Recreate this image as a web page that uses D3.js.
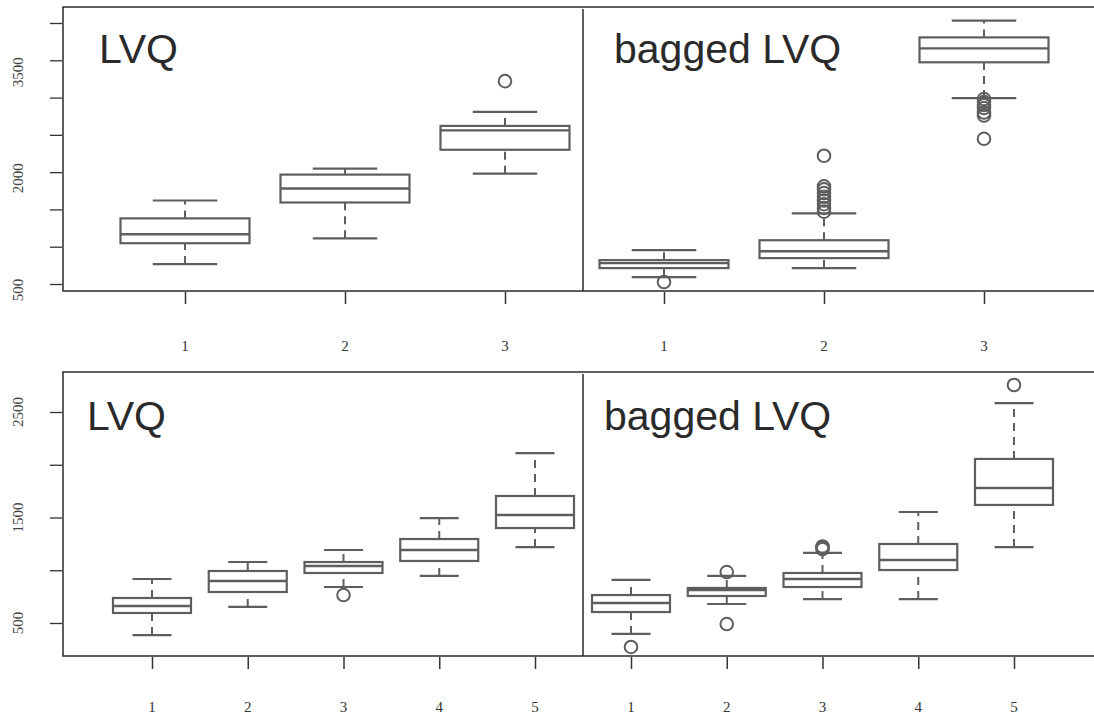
<!DOCTYPE html>
<html><head><meta charset="utf-8">
<script src="https://cdn.jsdelivr.net/npm/d3@7"></script>
<style>body{margin:0;background:#fff}svg{display:block}</style>
</head><body>
<svg id="c" width="1094" height="716"></svg>
<script>
// ---- data ----
const groups3 = ["1","2","3"];
const groups5 = ["1","2","3","4","5"];
const topTicks = [500,1000,1500,2000,2500,3000,3500,4000];
const topTickLabels = [500,2000,3500];
const botTicks = [500,1000,1500,2000,2500];
const botTickLabels = [500,1500,2500];
const panelTitles = ["LVQ","bagged LVQ"];
// each row: [lowerWhisker, q1, median, q3, upperWhisker]
const topLVQ = [[767,1047,1167,1380,1620],[1113,1593,1780,1967,2047],[1980,2300,2560,2620,2807]];
const topLVQOut = [[],[],[3220]];
const topBag = [[593,713,780,820,953],[713,847,940,1087,1447],[2993,3473,3660,3807,4033]];
const topBagOut = [[527],[2220,1810,1770,1720,1670,1620,1570,1520,1470],[2980,2940,2900,2860,2800,2760,2447]];
const botLVQ = [[386,595,661,737,917],[652,794,898,993,1078],[841,974,1040,1078,1192],[946,1088,1192,1296,1495],[1220,1400,1524,1704,2111]];
const botLVQOut = [[],[],[765],[],[]];
const botBag = [[396,604,690,765,908],[680,756,813,832,946],[727,841,917,974,1164],[727,1002,1097,1249,1552],[1220,1619,1780,2055,2585]];
const botBagOut = [[273],[983,490],[1200,1215,1225],[],[2756]];

const svg = d3.select("#c");
const lineCol = "#5e5e5e", frameCol = "#2a2a2a";

function drawRow(cfg){
  const y = d3.scaleLinear().domain(cfg.ydom).range(cfg.yrange);
  const g = svg.append("g");
  // frame
  g.append("path").attr("d",`M1094,${cfg.top}H${cfg.left}V${cfg.bottom}H1094`)
    .attr("fill","none").attr("stroke",frameCol).attr("stroke-width",1.5);
  g.append("line").attr("x1",cfg.divider).attr("x2",cfg.divider).attr("y1",cfg.top+2).attr("y2",cfg.bottom)
    .attr("stroke",frameCol).attr("stroke-width",1.5);
  // y axis
  const ya = d3.axisLeft(y).tickValues(cfg.ticks).tickSize(12).tickFormat(d=>"");
  const yg = g.append("g").attr("transform",`translate(${cfg.left-1},0)`).call(ya);
  yg.select(".domain").remove();
  yg.selectAll("line").attr("stroke","#333").attr("stroke-width",1.3);
  g.selectAll(".ylab").data(cfg.tickLabels).join("text")
    .attr("transform",d=>`translate(23,${y(d)+cfg.labOff(d)}) rotate(-90)`)
    .attr("text-anchor","middle").attr("font-family","Liberation Serif, Times New Roman, serif")
    .attr("font-size",15).attr("fill","#444").text(d=>d);
  // panels
  cfg.panels.forEach((p,pi)=>{
    const x = d3.scalePoint().domain(cfg.groups).range(p.xrange);
    const xa = d3.axisBottom(x).tickSize(12).tickFormat(()=> "");
    const xg = g.append("g").attr("transform",`translate(0,${cfg.bottom+1})`).call(xa);
    xg.select(".domain").remove();
    xg.selectAll("line").attr("stroke","#333").attr("stroke-width",1.5);
    g.selectAll(null).data(cfg.groups).join("text")
      .attr("x",d=>x(d)).attr("y",cfg.xlabY).attr("text-anchor","middle")
      .attr("font-family","Liberation Serif, Times New Roman, serif").attr("font-size",15).attr("fill","#333")
      .text(d=>d);
    g.append("text").attr("x",p.titleX).attr("y",cfg.titleY)
      .attr("font-family","Liberation Sans, Arial, Helvetica, sans-serif").attr("font-size",41)
      .attr("fill","#2a2a2a").text(panelTitles[pi]);
    const bw = cfg.bw, cw = bw/2;
    const bg = g.selectAll(null).data(p.stats).join("g")
      .attr("transform",(d,i)=>`translate(${x(cfg.groups[i])},0)`);
    bg.append("line").attr("y1",d=>y(d[0])).attr("y2",d=>y(d[1]))
      .attr("stroke",lineCol).attr("stroke-width",2).attr("stroke-dasharray","8,6");
    bg.append("line").attr("y1",d=>y(d[3])).attr("y2",d=>y(d[4]))
      .attr("stroke",lineCol).attr("stroke-width",2).attr("stroke-dasharray","8,6");
    bg.append("line").attr("x1",-cw/2).attr("x2",cw/2).attr("y1",d=>y(d[0])).attr("y2",d=>y(d[0]))
      .attr("stroke",lineCol).attr("stroke-width",2.2);
    bg.append("line").attr("x1",-cw/2).attr("x2",cw/2).attr("y1",d=>y(d[4])).attr("y2",d=>y(d[4]))
      .attr("stroke",lineCol).attr("stroke-width",2.2);
    bg.append("rect").attr("x",-bw/2).attr("width",bw).attr("y",d=>y(d[3])).attr("height",d=>y(d[1])-y(d[3]))
      .attr("fill","#fff").attr("stroke",lineCol).attr("stroke-width",2.2);
    bg.append("line").attr("x1",-bw/2).attr("x2",bw/2).attr("y1",d=>y(d[2])).attr("y2",d=>y(d[2]))
      .attr("stroke",lineCol).attr("stroke-width",2.4);
    bg.each(function(d,i){
      d3.select(this).selectAll("circle").data(p.out[i]).join("circle")
        .attr("cx",0).attr("cy",v=>y(v)).attr("r",6.3)
        .attr("fill","none").attr("stroke",lineCol).attr("stroke-width",2);
    });
  });
}

drawRow({
  ydom:[500,4000], yrange:[284,23], top:7, bottom:291, left:63, divider:583,
  ticks:topTicks, tickLabels:topTickLabels, labOff:d=>(d===3500?12:6),
  groups:groups3, bw:129, xlabY:351, titleY:63,
  panels:[
    {xrange:[185,505], stats:topLVQ, out:topLVQOut, titleX:99},
    {xrange:[664,984], stats:topBag, out:topBagOut, titleX:614}
  ]
});
drawRow({
  ydom:[500,2500], yrange:[623,412], top:372, bottom:656, left:63, divider:583,
  ticks:botTicks, tickLabels:botTickLabels, labOff:d=>0,
  groups:groups5, bw:78, xlabY:712, titleY:430,
  panels:[
    {xrange:[152,535], stats:botLVQ, out:botLVQOut, titleX:87},
    {xrange:[631,1014], stats:botBag, out:botBagOut, titleX:604}
  ]
});
</script>
</body></html>
